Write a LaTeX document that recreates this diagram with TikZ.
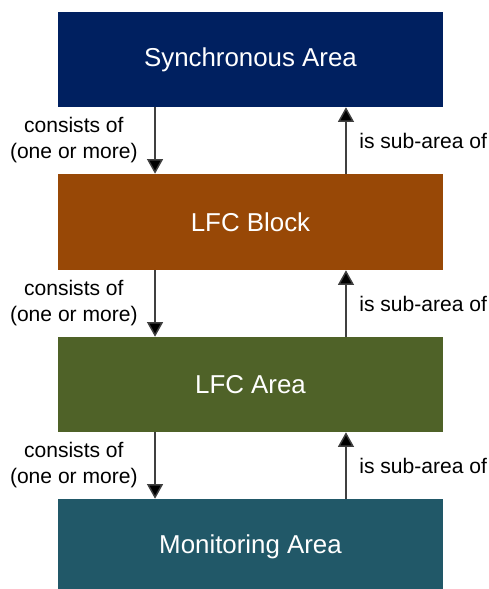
\documentclass[tikz,border=0pt]{standalone}
\usepackage{fontspec}
\setmainfont{Liberation Sans}
\usetikzlibrary{arrows.meta}
\definecolor{syncblue}{HTML}{002060}
\definecolor{blockbrown}{HTML}{984806}
\definecolor{areagreen}{HTML}{4F6228}
\definecolor{monteal}{HTML}{215868}
\tikzset{
  areabox/.style={rectangle, minimum width=288.75pt, minimum height=71.25pt, inner sep=0pt, text=white, font=\fontsize{19.4}{23}\selectfont},
  rel/.style={draw=black!75, line width=1.1pt, -{Triangle[width=12pt,length=11pt,fill=black]}},
  lbl/.style={font=\fontsize{15.8}{19.5}\selectfont, align=center, inner sep=0pt},
}

\begin{document}
\begin{tikzpicture}[x=0.75pt, y=-0.75pt]
    \useasboundingbox (0,0) rectangle (489,589);

    % the four areas
    \node[areabox, fill=syncblue] (sync) at (250.5,59.5) {Synchronous Area};
    \node[areabox, fill=blockbrown, minimum height=72pt] (block) at (250.5,222) {LFC Block};
    \node[areabox, fill=areagreen] (area) at (250.5,384.5) {LFC Area};
    \node[areabox, fill=monteal] (mon) at (250.5,546.5) {Monitoring Area};

    % consists of (one or more)
    \draw[rel] ([xshift=-71.6pt]sync.south) -- ([xshift=-71.6pt]block.north)
        node[lbl, midway, left=12.5pt] (cons1) {consists of\\(one or more)};
    \draw[rel] ([xshift=-71.6pt]block.south) -- ([xshift=-71.6pt]area.north)
        node[lbl, midway, left=12.5pt] (cons2) {consists of\\(one or more)};
    \draw[rel] ([xshift=-71.6pt]area.south) -- ([xshift=-71.6pt]mon.north)
        node[lbl, midway, left=12.5pt] (cons3) {consists of\\(one or more)};

    % is sub-area of
    \draw[rel] ([xshift=71.6pt]block.north) -- ([xshift=71.6pt]sync.south)
        node[lbl, midway, right=9.5pt] (sub1) {is sub-area of};
    \draw[rel] ([xshift=71.6pt]area.north) -- ([xshift=71.6pt]block.south)
        node[lbl, midway, right=9.5pt] (sub2) {is sub-area of};
    \draw[rel] ([xshift=71.6pt]mon.north) -- ([xshift=71.6pt]area.south)
        node[lbl, midway, right=9.5pt] (sub3) {is sub-area of};
\end{tikzpicture}
\end{document}
